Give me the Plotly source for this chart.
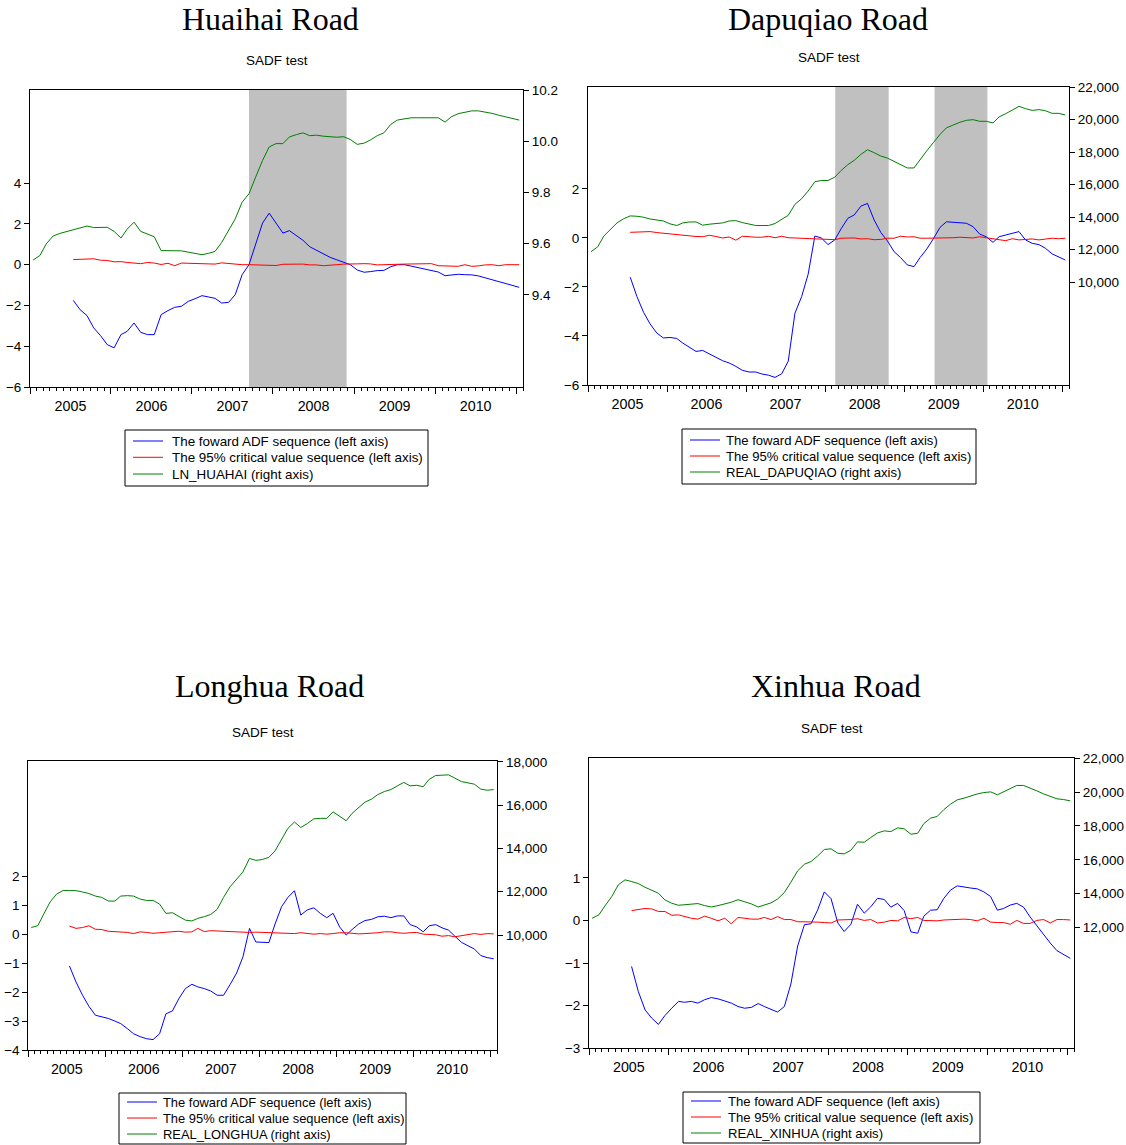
import pandas as pd
import plotly.graph_objects as go

W, H = 1126, 1145

# ---------------- data ----------------
# monthly observations 2005M01 .. 2011M01 (plotted mid-month)
months = list(pd.date_range("2005-01-01", periods=73, freq="MS") + pd.Timedelta(days=14))
adf_start = 6  # ADF / critical value sequences start at 2005M07

huaihai_level = [9.536, 9.554, 9.599, 9.630, 9.640, 9.648, 9.656, 9.663, 9.669, 9.663,
                 9.664, 9.664, 9.648, 9.622, 9.657, 9.684, 9.648, 9.638, 9.627, 9.573,
                 9.573, 9.573, 9.572, 9.567, 9.562, 9.557, 9.562, 9.570, 9.605, 9.651,
                 9.697, 9.762, 9.795, 9.860, 9.925, 9.978, 9.991, 9.991, 10.017, 10.026,
                 10.033, 10.022, 10.024, 10.020, 10.018, 10.016, 10.018, 10.007, 9.988, 9.993,
                 10.005, 10.022, 10.033, 10.066, 10.083, 10.089, 10.092, 10.092, 10.092, 10.092,
                 10.092, 10.075, 10.096, 10.108, 10.113, 10.119, 10.119, 10.115, 10.109, 10.102,
                 10.096, 10.088, 10.083]
huaihai_adf = [-1.75, -2.21, -2.50, -3.10, -3.48, -3.92, -4.08, -3.43, -3.27, -2.86,
               -3.32, -3.43, -3.43, -2.45, -2.25, -2.09, -2.04, -1.80, -1.67, -1.52,
               -1.58, -1.65, -1.88, -1.85, -1.47, -0.49, 0.00, 0.98, 2.04, 2.53,
               2.04, 1.55, 1.67, 1.42, 1.20, 0.88, 0.72, 0.52, 0.36, 0.24,
               0.13, 0.00, -0.26, -0.37, -0.34, -0.29, -0.28, -0.10, 0.00, 0.00,
               -0.07, -0.15, -0.21, -0.28, -0.36, -0.54, -0.52, -0.47, -0.49, -0.50,
               -0.55, -0.65, -0.75, -0.85, -0.93, -1.01, -1.11]
huaihai_cv = [0.25, 0.27, 0.29, 0.29, 0.22, 0.21, 0.14, 0.15, 0.11, 0.08,
              0.05, 0.11, 0.08, 0.01, 0.07, -0.05, 0.08, 0.07, 0.06, 0.05,
              0.07, 0.03, 0.09, 0.05, 0.04, 0.00, 0.00, -0.01, -0.01, -0.03,
              -0.04, 0.02, 0.02, 0.03, 0.03, -0.01, -0.01, -0.05, -0.04, 0.00,
              0.03, 0.05, 0.04, 0.05, 0.04, -0.01, -0.01, -0.01, 0.02, 0.03,
              0.03, 0.02, 0.02, 0.05, -0.05, -0.05, -0.05, -0.08, 0.00, -0.08,
              -0.06, -0.01, 0.00, -0.05, 0.00, 0.00, 0.00]
huaihai_shading = [("2007-09-15", "2008-11-28")]

dapuqiao_level = [11880, 12180, 12840, 13240, 13650, 13910, 14080, 14060, 14000, 13890,
                  13850, 13770, 13590, 13490, 13650, 13710, 13710, 13510, 13570, 13590,
                  13650, 13770, 13790, 13670, 13570, 13490, 13490, 13490, 13610, 13850,
                  14120, 14790, 15140, 15610, 16180, 16260, 16260, 16460, 16870, 17230,
                  17500, 17870, 18150, 17970, 17760, 17640, 17440, 17280, 17030, 17030,
                  17560, 18090, 18580, 19090, 19500, 19680, 19840, 19960, 20000, 19900,
                  19900, 19800, 20170, 20370, 20570, 20820, 20680, 20570, 20620, 20550,
                  20390, 20390, 20290]
dapuqiao_adf = [-1.60, -2.39, -3.04, -3.51, -3.88, -4.08, -4.06, -4.10, -4.29, -4.46,
                -4.63, -4.59, -4.74, -4.87, -5.01, -5.10, -5.24, -5.40, -5.47, -5.47,
                -5.55, -5.60, -5.69, -5.54, -5.03, -3.07, -2.39, -1.48, 0.08, 0.00,
                -0.27, -0.08, 0.37, 0.80, 0.94, 1.30, 1.41, 0.73, 0.22, -0.12,
                -0.56, -0.80, -1.10, -1.17, -0.80, -0.45, -0.04, 0.43, 0.66, 0.64,
                0.64, 0.60, 0.46, 0.16, 0.05, -0.18, 0.05, 0.12, 0.16, 0.26,
                -0.08, -0.22, -0.27, -0.42, -0.65, -0.76, -0.90]
dapuqiao_cv = [0.23, 0.25, 0.26, 0.26, 0.22, 0.19, 0.15, 0.12, 0.12, 0.09,
               0.06, 0.05, 0.11, 0.06, 0.00, 0.04, -0.09, 0.07, 0.04, 0.03,
               0.03, 0.07, 0.01, 0.07, 0.01, 0.00, -0.04, -0.04, -0.04, -0.04,
               -0.05, -0.07, -0.01, -0.01, 0.00, -0.04, -0.03, -0.07, -0.06, -0.01,
               -0.01, 0.07, 0.04, 0.05, -0.01, -0.01, -0.01, 0.00, 0.01, 0.01,
               0.03, 0.01, 0.00, 0.05, 0.00, -0.05, -0.07, -0.11, -0.03, -0.08,
               -0.07, -0.04, -0.08, -0.04, -0.01, -0.03, -0.01]
dapuqiao_shading = [("2008-02-17", "2008-10-21"), ("2009-05-21", "2010-01-20")]

longhua_level = [10350, 10430, 10970, 11540, 11890, 12060, 12060, 12050, 11990, 11920,
                 11800, 11740, 11570, 11570, 11800, 11820, 11800, 11660, 11600, 11600,
                 11430, 11000, 11030, 10850, 10690, 10650, 10770, 10850, 10950, 11190,
                 11740, 12230, 12590, 12920, 13540, 13450, 13490, 13590, 13890, 14410,
                 14930, 15220, 14970, 15150, 15370, 15390, 15390, 15690, 15490, 15280,
                 15620, 15890, 16140, 16280, 16490, 16630, 16720, 16890, 17050, 16890,
                 16920, 16850, 17190, 17370, 17370, 17400, 17250, 17090, 17030, 16970,
                 16740, 16690, 16720]
longhua_adf = [-1.10, -1.65, -2.11, -2.49, -2.80, -2.86, -2.91, -3.00, -3.09, -3.26,
               -3.44, -3.54, -3.61, -3.64, -3.44, -2.75, -2.65, -2.23, -1.88, -1.73,
               -1.82, -1.88, -1.96, -2.11, -2.11, -1.74, -1.34, -0.78, 0.20, -0.27,
               -0.29, -0.29, 0.35, 0.95, 1.27, 1.50, 0.66, 0.84, 0.91, 0.72,
               0.57, 0.72, 0.25, -0.03, 0.16, 0.35, 0.47, 0.51, 0.60, 0.62,
               0.57, 0.63, 0.63, 0.33, 0.25, 0.08, 0.29, 0.33, 0.22, 0.14,
               -0.07, -0.28, -0.40, -0.51, -0.74, -0.81, -0.85]
longhua_cv = [0.28, 0.20, 0.23, 0.29, 0.17, 0.16, 0.10, 0.09, 0.09, 0.06,
              0.02, 0.08, 0.06, 0.03, 0.05, 0.06, 0.08, 0.10, 0.07, 0.08,
              0.20, 0.09, 0.12, 0.11, 0.10, 0.09, 0.08, 0.06, 0.06, 0.07,
              0.06, 0.06, 0.06, 0.05, 0.04, 0.02, 0.05, 0.02, 0.00, 0.02,
              0.00, 0.02, 0.05, 0.05, 0.02, 0.01, 0.02, 0.03, 0.05, 0.08,
              0.08, 0.05, 0.03, 0.05, 0.06, 0.00, 0.00, -0.02, -0.07, -0.05,
              -0.09, -0.05, 0.00, 0.02, -0.01, 0.02, 0.01]
longhua_shading = []

xinhua_level = [12550, 12750, 13280, 13830, 14520, 14820, 14720, 14600, 14380, 14190,
                14030, 13630, 13440, 13320, 13360, 13360, 13420, 13300, 13220, 13300,
                13380, 13500, 13650, 13540, 13400, 13220, 13340, 13460, 13690, 14070,
                14680, 15350, 15740, 15900, 16230, 16610, 16650, 16390, 16350, 16570,
                17060, 17040, 17320, 17590, 17710, 17670, 17890, 17830, 17510, 17570,
                18140, 18460, 18560, 18970, 19280, 19540, 19640, 19780, 19890, 19970,
                20010, 19840, 20010, 20210, 20390, 20390, 20250, 20070, 19890, 19740,
                19600, 19560, 19480]
xinhua_adf = [-1.08, -1.67, -2.10, -2.29, -2.44, -2.23, -2.06, -1.90, -1.92, -1.90,
              -1.94, -1.86, -1.81, -1.84, -1.89, -1.94, -2.02, -2.06, -2.04, -1.95,
              -2.02, -2.08, -2.15, -2.02, -1.49, -0.60, -0.10, -0.08, 0.25, 0.67,
              0.51, -0.06, -0.26, -0.09, 0.38, 0.17, 0.32, 0.52, 0.49, 0.31,
              0.40, 0.23, -0.27, -0.30, 0.10, 0.24, 0.25, 0.52, 0.71, 0.81,
              0.78, 0.76, 0.74, 0.67, 0.56, 0.24, 0.28, 0.36, 0.40, 0.31,
              0.08, -0.13, -0.34, -0.53, -0.71, -0.79, -0.89]
xinhua_cv = [0.23, 0.26, 0.28, 0.27, 0.21, 0.21, 0.12, 0.13, 0.09, 0.05,
             0.03, 0.10, 0.05, -0.01, 0.05, -0.08, 0.07, 0.05, 0.03, 0.03,
             0.07, 0.02, 0.09, 0.02, 0.02, -0.03, -0.03, -0.03, -0.04, -0.05,
             -0.06, 0.01, 0.01, 0.02, 0.04, 0.00, 0.02, -0.06, -0.04, 0.00,
             -0.01, 0.07, 0.04, 0.07, 0.00, 0.00, -0.01, 0.01, 0.02, 0.02,
             0.03, 0.02, -0.01, 0.05, -0.04, -0.05, -0.05, -0.09, 0.00, -0.07,
             -0.07, 0.00, 0.02, -0.06, 0.02, 0.02, 0.01]
xinhua_shading = []

titles = ["Huaihai Road", "Dapuqiao Road", "Longhua Road", "Xinhua Road"]
subtitle = "SADF test"
adf_label = "The foward ADF sequence (left axis)"
cv_label = "The 95% critical value sequence (left axis)"
level_labels = ["LN_HUAHAI (right axis)", "REAL_DAPUQIAO (right axis)",
                "REAL_LONGHUA (right axis)", "REAL_XINHUA (right axis)"]

left_ticks = [[-6, -4, -2, 0, 2, 4], [-6, -4, -2, 0, 2],
              [-4, -3, -2, -1, 0, 1, 2], [-3, -2, -1, 0, 1]]
right_ticks = [[9.4, 9.6, 9.8, 10.0, 10.2],
               [10000, 12000, 14000, 16000, 18000, 20000, 22000],
               [10000, 12000, 14000, 16000, 18000],
               [12000, 14000, 16000, 18000, 20000, 22000]]

# ---------------- layout (pixels) ----------------
BLUE, RED, GREEN = "#0000FF", "#FF0000", "#008000"
SANS = "Liberation Sans, Arial, sans-serif"
SERIF = "Liberation Serif, Times New Roman, serif"

panels = [
    dict(level=huaihai_level, adf=huaihai_adf, cv=huaihai_cv, shade=huaihai_shading,
         box=(30, 90, 523, 387), lrange=[-6, 8.57], rrange=[9.04, 10.2005], rfmt=".1f",
         title=(270.5, 18.5), sub=(277, 61), legend=(125, 430, 428, 486), lrow=[441, 457.3, 474],
         lfs=13.4, ltx=45),
    dict(level=dapuqiao_level, adf=dapuqiao_adf, cv=dapuqiao_cv, shade=dapuqiao_shading,
         box=(588, 87, 1069, 385), lrange=[-6, 6.16], rrange=[3680, 22010], rfmt=",d",
         title=(827.5, 18.5), sub=(829, 57), legend=(682, 429, 976, 484), lrow=[440, 456, 472],
         lfs=13.1, ltx=42),
    dict(level=longhua_level, adf=longhua_adf, cv=longhua_cv, shade=longhua_shading,
         box=(28.3, 761, 497.3, 1050), lrange=[-4, 5.98], rrange=[4690, 18040], rfmt=",d",
         title=(269, 685.5), sub=(263, 732), legend=(119, 1093, 406, 1144), lrow=[1102, 1118, 1134],
         lfs=12.9, ltx=42),
    dict(level=xinhua_level, adf=xinhua_adf, cv=xinhua_cv, shade=xinhua_shading,
         box=(589, 758, 1074, 1048.3), lrange=[-3, 3.81], rrange=[4880, 22010], rfmt=",d",
         title=(835.5, 685.5), sub=(832, 728), legend=(683, 1092, 980, 1143), lrow=[1101, 1117, 1133],
         lfs=13.1, ltx=43),
]


def px(x):
    return x / W


def py(y):
    return 1 - y / H


fig = go.Figure()
layout = dict(template="none", width=W, height=H, margin=dict(l=0, r=0, t=0, b=0, pad=0),
              autosize=False, paper_bgcolor="white", plot_bgcolor="white", showlegend=False,
              font=dict(family=SANS, size=13.5, color="black"))
shapes, annotations = [], []

for k, p in enumerate(panels):
    n = k + 1
    xid = "x" if n == 1 else f"x{n}"
    ly_n, ry_n = 2 * n - 1, 2 * n
    lyid = "y" if ly_n == 1 else f"y{ly_n}"
    ryid = f"y{ry_n}"
    x0, y0, x1, y1 = p["box"]

    fig.add_trace(go.Scatter(x=months[adf_start:], y=p["adf"], mode="lines", name=adf_label,
                             line=dict(color=BLUE, width=1), xaxis=xid, yaxis=lyid))
    fig.add_trace(go.Scatter(x=months[adf_start:], y=p["cv"], mode="lines", name=cv_label,
                             line=dict(color=RED, width=1), xaxis=xid, yaxis=lyid))
    fig.add_trace(go.Scatter(x=months, y=p["level"], mode="lines", name=level_labels[k],
                             line=dict(color=GREEN, width=1), xaxis=xid, yaxis=ryid))

    xname = "xaxis" if n == 1 else f"xaxis{n}"
    lname = "yaxis" if ly_n == 1 else f"yaxis{ly_n}"
    rname = f"yaxis{ry_n}"
    layout[xname] = dict(
        domain=[px(x0), px(x1)], anchor=lyid, type="date", automargin=False,
        range=["2005-01-01", "2011-02-01"], tick0="2005-01-01", dtick="M12",
        ticklabelmode="period", tickformat="%Y", ticks="outside", ticklen=6,
        tickcolor="black", showline=True, linecolor="black", linewidth=1, mirror=True,
        showgrid=False, zeroline=False, tickfont=dict(size=14.3),
        minor=dict(dtick="M1", tick0="2005-01-01", ticks="outside", ticklen=3,
                   tickcolor="black", showgrid=False),
    )
    layout[lname] = dict(
        domain=[py(y1), py(y0)], anchor=xid, range=p["lrange"], tickvals=left_ticks[k],
        ticks="outside", ticklen=5, tickcolor="black", showline=True, linecolor="black",
        linewidth=1, showgrid=False, zeroline=False, tickfont=dict(size=13.5), automargin=False,
    )
    layout[rname] = dict(
        overlaying=lyid, side="right", anchor=xid, range=p["rrange"],
        tickvals=right_ticks[k], tickformat=p["rfmt"], ticks="outside", ticklen=5,
        tickcolor="black", showline=True, linecolor="black", linewidth=1,
        showgrid=False, zeroline=False, tickfont=dict(size=13.5), automargin=False,
    )

    for s0, s1 in p["shade"]:
        shapes.append(dict(type="rect", xref=xid, yref=f"{lyid} domain", x0=s0, x1=s1,
                           y0=0, y1=1, fillcolor="#C0C0C0", line=dict(width=0), layer="below"))

    # titles
    tx, ty = p["title"]
    annotations.append(dict(text=titles[k], x=px(tx), y=py(ty), xref="paper", yref="paper",
                            xanchor="center", yanchor="middle", showarrow=False,
                            font=dict(family=SERIF, size=32, color="black")))
    sx, sy = p["sub"]
    annotations.append(dict(text=subtitle, x=px(sx), y=py(sy), xref="paper", yref="paper",
                            xanchor="center", yanchor="middle", showarrow=False,
                            font=dict(family=SANS, size=13.5, color="black")))

    # legend box
    bx0, by0, bx1, by1 = p["legend"]
    shapes.append(dict(type="rect", xref="paper", yref="paper", x0=px(bx0), x1=px(bx1),
                       y0=py(by1), y1=py(by0), line=dict(color="black", width=1),
                       fillcolor="white", layer="above"))
    for row_y, col, lab in zip(p["lrow"], [BLUE, RED, GREEN], [adf_label, cv_label, level_labels[k]]):
        shapes.append(dict(type="line", xref="paper", yref="paper", x0=px(bx0 + 8), x1=px(bx0 + 38),
                           y0=py(row_y), y1=py(row_y), line=dict(color=col, width=1), layer="above"))
        annotations.append(dict(text=lab, x=px(bx0 + p["ltx"]), y=py(row_y), xref="paper", yref="paper",
                                xanchor="left", yanchor="middle", showarrow=False,
                                font=dict(family=SANS, size=p["lfs"], color="black")))

layout["shapes"] = shapes
layout["annotations"] = annotations
fig.update_layout(**layout)

fig.write_html(
    "out.html",
    config={"displayModeBar": False},
    post_script="document.body.style.margin='0';document.body.style.overflow='hidden';",
)
